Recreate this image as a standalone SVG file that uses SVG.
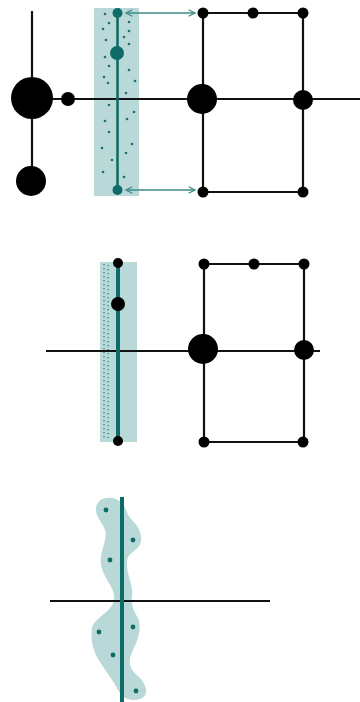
<svg xmlns="http://www.w3.org/2000/svg" width="360" height="702" viewBox="0 0 360 702">
<style>
.ln{stroke:#111;stroke-width:2.2;fill:none}
.nd{fill:#000}
.band{fill:#b9d8d8}
.tl{stroke:#0f6b66;fill:none}
.td{fill:#0f6b66}
.sp{fill:#1f6f6b}
.arr{stroke:#3e8c88;stroke-width:1.6;fill:none}
</style>
<defs>
<marker id="ah" viewBox="0 0 10 10" refX="9" refY="5" markerWidth="8" markerHeight="8" orient="auto-start-reverse" markerUnits="userSpaceOnUse">
<path d="M1 1 L9 5 L1 9" stroke="#3e8c88" stroke-width="1.6" fill="none"/>
</marker>
</defs>
<rect width="360" height="702" fill="#fff"/>

<!-- Panel 1 -->
<rect id="band1" class="band" x="94" y="8" width="45" height="188"/>
<g id="speckles1">
<circle class="sp" cx="105" cy="14" r="1.3"/><circle class="sp" cx="109" cy="23" r="1.3"/><circle class="sp" cx="103" cy="29" r="1.3"/><circle class="sp" cx="106" cy="40" r="1.3"/><circle class="sp" cx="129" cy="22" r="1.3"/><circle class="sp" cx="129" cy="31" r="1.3"/><circle class="sp" cx="124" cy="37" r="1.3"/><circle class="sp" cx="129" cy="44" r="1.3"/><circle class="sp" cx="105" cy="57" r="1.3"/><circle class="sp" cx="109" cy="66" r="1.3"/><circle class="sp" cx="104" cy="77" r="1.3"/><circle class="sp" cx="108" cy="83" r="1.3"/><circle class="sp" cx="129" cy="70" r="1.3"/><circle class="sp" cx="135" cy="81" r="1.3"/><circle class="sp" cx="126" cy="93" r="1.3"/>
<circle class="sp" cx="109" cy="105" r="1.3"/><circle class="sp" cx="134" cy="112" r="1.3"/><circle class="sp" cx="105" cy="121" r="1.3"/><circle class="sp" cx="127" cy="119" r="1.3"/><circle class="sp" cx="109" cy="132" r="1.3"/><circle class="sp" cx="132" cy="144" r="1.3"/><circle class="sp" cx="102" cy="148" r="1.3"/><circle class="sp" cx="126" cy="153" r="1.3"/><circle class="sp" cx="112" cy="160" r="1.3"/><circle class="sp" cx="103" cy="172" r="1.3"/><circle class="sp" cx="124" cy="177" r="1.3"/>
</g>
<g id="connectors1">
<line class="ln" x1="32" y1="11" x2="32" y2="181"/>
<line class="ln" x1="68" y1="99" x2="360" y2="99"/>
<line class="ln" x1="32" y1="99" x2="68" y2="99"/>
<line class="tl" stroke-width="2.6" x1="117.5" y1="13" x2="117.5" y2="190"/>
<polyline class="ln" points="203,99 203,13 303,13 303,192 203,192 203,99"/>
<line class="arr" x1="126" y1="13" x2="195" y2="13" marker-start="url(#ah)" marker-end="url(#ah)"/>
<line class="arr" x1="126" y1="190" x2="195" y2="190" marker-start="url(#ah)" marker-end="url(#ah)"/>
</g>
<g id="p1-nodes">
<circle id="n1a" class="nd" cx="32" cy="98" r="21"/>
<circle id="n1b" class="nd" cx="68" cy="99" r="7"/>
<circle id="n1c" class="nd" cx="31" cy="181" r="15"/>
<circle id="n1d" class="td" cx="117.5" cy="13" r="5"/>
<circle id="n1e" class="td" cx="117" cy="53" r="7"/>
<circle id="n1f" class="td" cx="117.5" cy="190" r="5"/>
<circle id="n1g" class="nd" cx="203" cy="13" r="5.5"/>
<circle id="n1h" class="nd" cx="253" cy="13" r="5.5"/>
<circle id="n1i" class="nd" cx="303" cy="13" r="5.5"/>
<circle id="n1j" class="nd" cx="202" cy="99" r="15"/>
<circle id="n1k" class="nd" cx="303" cy="100" r="10"/>
<circle id="n1l" class="nd" cx="203" cy="192" r="5.5"/>
<circle id="n1m" class="nd" cx="303" cy="192" r="5.5"/>
</g>

<!-- Panel 2 -->
<rect id="band2" class="band" x="100" y="262" width="37" height="180"/>
<g id="strip2">
<line x1="104" y1="264" x2="104" y2="438" stroke="#2f7d79" stroke-width="1.3" stroke-dasharray="1.3 2.7"/>
<line x1="108" y1="265" x2="108" y2="438" stroke="#2f7d79" stroke-width="1.3" stroke-dasharray="1.3 2.7"/>
</g>
<g id="connectors2">
<line class="ln" x1="46" y1="351" x2="320" y2="351"/>
<line class="tl" stroke-width="4" x1="118" y1="263" x2="118" y2="440"/>
<polyline class="ln" points="204,350 204,264 304,264 304,442 204,442 204,350"/>
</g>
<g id="p2-nodes">
<circle id="n2a" class="nd" cx="118" cy="263" r="5"/>
<circle id="n2b" class="nd" cx="118" cy="304" r="7"/>
<circle id="n2c" class="nd" cx="118" cy="441" r="5"/>
<circle id="n2d" class="nd" cx="204" cy="264" r="5.5"/>
<circle id="n2e" class="nd" cx="254" cy="264" r="5.5"/>
<circle id="n2f" class="nd" cx="304" cy="264" r="5.5"/>
<circle id="n2g" class="nd" cx="203" cy="349" r="15"/>
<circle id="n2h" class="nd" cx="304" cy="350" r="10"/>
<circle id="n2i" class="nd" cx="204" cy="442" r="5.5"/>
<circle id="n2j" class="nd" cx="303" cy="442" r="5.5"/>
</g>

<!-- Panel 3 -->
<path id="blob3" class="band" d="M107 498 C118 496 125 505 128 515 C133 522 142 528 141 540 C140 552 128 550 127 562 C126 575 134 585 132 597 C131 604 133 610 138 618 C142 628 138 640 133 650 C128 660 128 668 138 676 C147 684 150 696 140 699 C130 702 122 698 118 690 C113 680 106 672 100 662 C94 654 90 640 92 628 C94 618 112 612 114 600 C116 588 104 580 101 565 C99 552 108 540 105 530 C103 522 95 518 96 508 C97 501 102 498 107 498 Z"/>
<g id="connectors3">
<line class="ln" x1="50" y1="601" x2="270" y2="601"/>
<line class="tl" stroke-width="4" x1="122" y1="497" x2="122" y2="702"/>
</g>
<g id="p3-dots">
<circle class="td" cx="106" cy="510" r="2.4"/>
<circle class="td" cx="133" cy="540" r="2.4"/>
<circle class="td" cx="110" cy="560" r="2.4"/>
<circle class="td" cx="99" cy="632" r="2.4"/>
<circle class="td" cx="133" cy="627" r="2.4"/>
<circle class="td" cx="113" cy="655" r="2.4"/>
<circle class="td" cx="136" cy="691" r="2.4"/>
</g>
</svg>
